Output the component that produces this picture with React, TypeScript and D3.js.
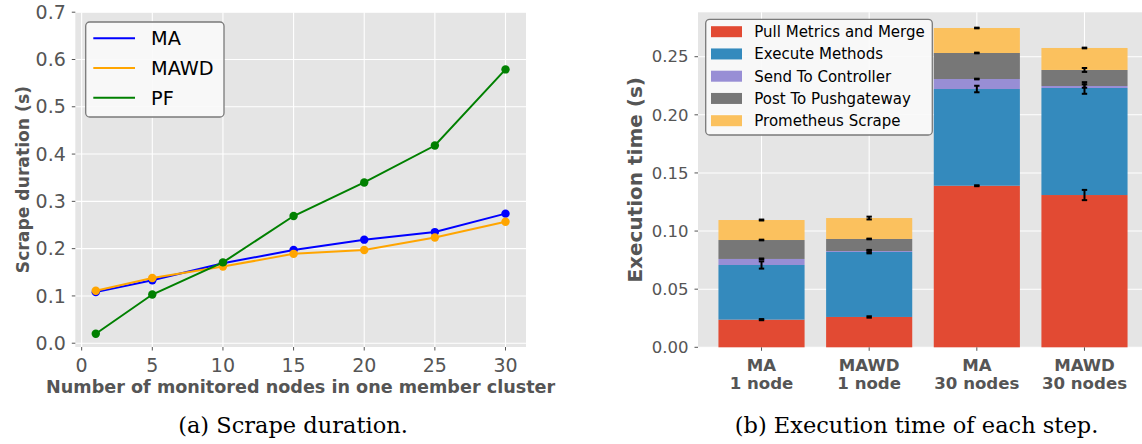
import * as d3 from 'd3'

// Left chart: scrape duration
const nodeCounts = [1, 5, 10, 15, 20, 25, 30]
const maDuration = [0.108, 0.133, 0.169, 0.197, 0.219, 0.235, 0.274]
const mawdDuration = [0.111, 0.138, 0.162, 0.189, 0.197, 0.2235, 0.257]
const pfDuration = [0.020, 0.103, 0.171, 0.269, 0.340, 0.418, 0.579]
const leftXTicks = [0, 5, 10, 15, 20, 25, 30]
const leftYTicks = [0, 0.1, 0.2, 0.3, 0.4, 0.5, 0.6, 0.7]

// Right chart: execution time per step
const barGroups = [
  ['MA', '1 node'],
  ['MAWD', '1 node'],
  ['MA', '30 nodes'],
  ['MAWD', '30 nodes'],
]
const stepNames = [
  'Pull Metrics and Merge',
  'Execute Methods',
  'Send To Controller',
  'Post To Pushgateway',
  'Prometheus Scrape',
]
const pullMetrics = [0.0238, 0.0261, 0.139, 0.131]
const executeMethods = [0.047, 0.0559, 0.0832, 0.0921]
const sendToController = [0.0052, 0.0008, 0.0086, 0.0017]
const postToPushgateway = [0.0163, 0.0104, 0.0224, 0.0138]
const prometheusScrape = [0.0172, 0.018, 0.0215, 0.0189]
const pullErr = [0.0005, 0.0006, 0.0004, 0.0044]
const executeErr = [0.0031, 0.0012, 0.0028, 0.005]
const sendErr = [0.0004, 0.001, 0.0003, 0.0015]
const postErr = [0.0003, 0.0003, 0.0003, 0.0017]
const scrapeErr = [0.0004, 0.0012, 0.0003, 0.0003]
const rightYTicks = [0, 0.05, 0.1, 0.15, 0.2, 0.25]

const lineColors = ['#0000ff', '#ffa500', '#008000']
const stepColors = ['#E24A33', '#348ABD', '#988ED5', '#777777', '#FBC15E']
const BG = '#e5e5e5'
const TXT = '#555555'

export default function App() {
  // ---- left scales
  const xL = d3.scaleLinear().domain([-0.45, 31.45]).range([75.3, 526])
  const yL = d3.scaleLinear().domain([-0.008, 0.7]).range([347, 12.2])
  const lineSeries = [
    { name: 'MA', values: maDuration },
    { name: 'MAWD', values: mawdDuration },
    { name: 'PF', values: pfDuration },
  ]
  const line = d3
    .line<number>()
    .x((_, i) => xL(nodeCounts[i]))
    .y(d => yL(d))

  // ---- right scales
  const xR = d3.scaleLinear().domain([-0.59, 3.59]).range([698, 1148])
  const yR = d3.scaleLinear().domain([0, 0.2882]).range([347.3, 12.3])
  const bw = xR(0.4) - xR(-0.4)
  const stepValues = [pullMetrics, executeMethods, sendToController, postToPushgateway, prometheusScrape]
  const stepErrs = [pullErr, executeErr, sendErr, postErr, scrapeErr]
  const stack = d3
    .stack<number>()
    .keys(stepNames.map((_, k) => String(k)))
    .value((i, key) => stepValues[+key][i])(barGroups.map((_, i) => i))

  const [lx0, lx1] = xL.range()
  const [ly0, ly1] = yL.range()
  const [rx0, rx1] = xR.range()
  const [ry0, ry1] = yR.range()

  return (
    <svg width={1142} height={444} style={{ position: 'absolute', left: 0, top: 0 }} fontFamily="DejaVu Sans">
      <rect width={1142} height={444} fill="#fff" />

      {/* ===== left chart ===== */}
      <rect x={lx0} y={ly1} width={lx1 - lx0} height={ly0 - ly1} fill={BG} />
      {leftXTicks.map(t => (
        <line key={'gx' + t} x1={xL(t)} x2={xL(t)} y1={ly1} y2={ly0} stroke="#fff" strokeWidth={1.1} />
      ))}
      {leftYTicks.map(t => (
        <line key={'gy' + t} x1={lx0} x2={lx1} y1={yL(t)} y2={yL(t)} stroke="#fff" strokeWidth={1.1} />
      ))}
      {leftXTicks.map(t => (
        <g key={'tx' + t}>
          <line x1={xL(t)} x2={xL(t)} y1={ly0} y2={ly0 + 3.5} stroke={TXT} strokeWidth={1} />
          <text x={xL(t)} y={372} textAnchor="middle" fontSize={19} fill={TXT}>{t}</text>
        </g>
      ))}
      {leftYTicks.map(t => (
        <g key={'ty' + t}>
          <line x1={lx0 - 3.5} x2={lx0} y1={yL(t)} y2={yL(t)} stroke={TXT} strokeWidth={1} />
          <text x={lx0 - 9.5} y={yL(t)} dy="0.35em" textAnchor="end" fontSize={19} fill={TXT}>{t.toFixed(1)}</text>
        </g>
      ))}
      {lineSeries.map((s, k) => (
        <g key={s.name}>
          <path d={line(s.values) || ''} fill="none" stroke={lineColors[k]} strokeWidth={2} />
          {s.values.map((v, i) => (
            <circle key={i} cx={xL(nodeCounts[i])} cy={yL(v)} r={4.2} fill={lineColors[k]} />
          ))}
        </g>
      ))}
      <text x={(lx0 + lx1) / 2} y={393.3} textAnchor="middle" fontSize={17.6} fontWeight="bold" fill={TXT}>
        Number of monitored nodes in one member cluster
      </text>
      <text
        transform={`translate(29,${(ly0 + ly1) / 2}) rotate(-90)`}
        textAnchor="middle"
        fontSize={17.2}
        fontWeight="bold"
        fill={TXT}
      >
        Scrape duration (s)
      </text>
      {/* left legend */}
      <rect x={85.7} y={22} width={138.3} height={95} rx={4} fill="#fafafa" fillOpacity={0.9} stroke="#7a7a7a" strokeWidth={1.3} />
      {lineSeries.map((s, k) => (
        <g key={'lg' + s.name} transform={`translate(0,${38.3 + k * 29.7})`}>
          <line x1={93.3} x2={135} y1={0} y2={0} stroke={lineColors[k]} strokeWidth={2} />
          <text x={151} y={0} dy="0.36em" fontSize={19.3} fill="#000">{s.name}</text>
        </g>
      ))}
      <text x={293} y={433} textAnchor="middle" fontSize={22.5} fontFamily="DejaVu Serif" fill="#000">
        (a) Scrape duration.
      </text>

      {/* ===== right chart ===== */}
      <rect x={rx0} y={ry1} width={rx1 - rx0} height={ry0 - ry1} fill={BG} />
      {barGroups.map((_, i) => (
        <line key={'rgx' + i} x1={xR(i)} x2={xR(i)} y1={ry1} y2={ry0} stroke="#fff" strokeWidth={1.1} />
      ))}
      {rightYTicks.map(t => (
        <line key={'rgy' + t} x1={rx0} x2={rx1} y1={yR(t)} y2={yR(t)} stroke="#fff" strokeWidth={1.1} />
      ))}
      {stack.map((layer, k) => (
        <g key={'st' + k}>
          {layer.map((d, i) => (
            <rect
              key={i}
              x={xR(i) - bw / 2}
              y={yR(d[1])}
              width={bw}
              height={yR(d[0]) - yR(d[1])}
              fill={stepColors[k]}
            />
          ))}
        </g>
      ))}
      {stack.map((layer, k) => (
        <g key={'eb' + k} stroke="#000" strokeWidth={2}>
          {layer.map((d, i) => {
            const e = stepErrs[k][i]
            const cx = xR(i)
            const yt = yR(d[1] + e)
            const yb = yR(d[1] - e)
            return (
              <g key={i}>
                <line x1={cx} x2={cx} y1={yt} y2={yb} />
                <line x1={cx - 2.7} x2={cx + 2.7} y1={yt} y2={yt} />
                <line x1={cx - 2.7} x2={cx + 2.7} y1={yb} y2={yb} />
              </g>
            )
          })}
        </g>
      ))}
      {rightYTicks.map(t => (
        <g key={'rty' + t}>
          <line x1={rx0 - 3.5} x2={rx0} y1={yR(t)} y2={yR(t)} stroke={TXT} strokeWidth={1} />
          <text x={rx0 - 9.5} y={yR(t)} dy="0.35em" textAnchor="end" fontSize={16.5} fill={TXT}>{t.toFixed(2)}</text>
        </g>
      ))}
      {barGroups.map((g, i) => (
        <g key={'rtx' + i}>
          <line x1={xR(i)} x2={xR(i)} y1={ry0} y2={ry0 + 3.5} stroke={TXT} strokeWidth={1} />
          <text x={xR(i)} y={370.7} textAnchor="middle" fontSize={16.6} fontWeight="bold" fill={TXT}>{g[0]}</text>
          <text x={xR(i)} y={389} textAnchor="middle" fontSize={16.6} fontWeight="bold" fill={TXT}>{g[1]}</text>
        </g>
      ))}
      <text
        transform={`translate(642,${(ry0 + ry1) / 2}) rotate(-90)`}
        textAnchor="middle"
        fontSize={20}
        fontWeight="bold"
        fill={TXT}
      >
        Execution time (s)
      </text>
      {/* right legend */}
      <rect x={705.7} y={19.3} width={226.6} height={115.7} rx={4} fill="#fafafa" fillOpacity={0.9} stroke="#7a7a7a" strokeWidth={1.3} />
      {stepNames.map((n, k) => (
        <g key={'rl' + k} transform={`translate(0,${31.7 + k * 22.25})`}>
          <rect x={711} y={-5.5} width={31} height={11} fill={stepColors[k]} />
          <text x={754.3} y={0} dy="0.36em" fontSize={15} fill="#000">{n}</text>
        </g>
      ))}
      <text x={916.5} y={433} textAnchor="middle" fontSize={22.5} fontFamily="DejaVu Serif" fill="#000">
        (b) Execution time of each step.
      </text>
    </svg>
  )
}
